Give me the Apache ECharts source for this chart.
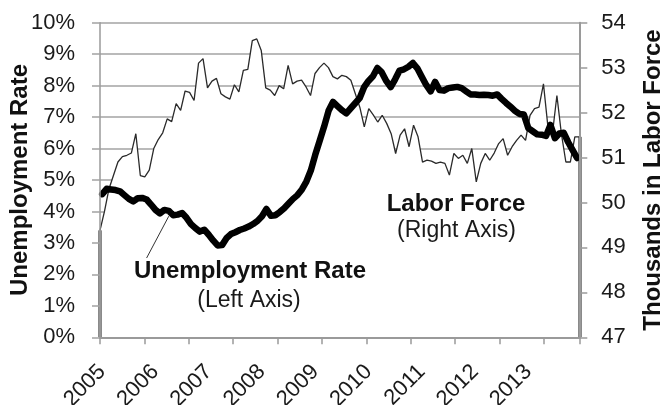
<!DOCTYPE html>
<html>
<head>
<meta charset="utf-8">
<title>Unemployment Rate and Labor Force</title>
<script src="https://cdn.jsdelivr.net/npm/echarts@6/dist/echarts.min.js"></script>
<style>
  html, body { margin: 0; padding: 0; background: #ffffff; }
  #chart { width: 666px; height: 405px; }
</style>
</head>
<body>
<div id="chart"></div>
<script>
// Year labels on the horizontal axis; one category per month
const yearLabels = ['2005', '2006', '2007', '2008', '2009', '2010', '2011', '2012', '2013'];
const monthNums = ['01', '02', '03', '04', '05', '06', '07', '08', '09', '10', '11', '12'];
const months = [];
yearLabels.forEach(y => monthNums.forEach(m => months.push(y + '-' + m)));

// Left-axis gridline values, percent
const rateGridValues = [1, 2, 3, 4, 5, 6, 7, 8, 9, 10];

// Unemployment rate, percent (left axis), Jan 2005 - Dec 2013
const unemploymentRate = [
  4.55, 4.72, 4.70, 4.68, 4.64, 4.52, 4.40, 4.32, 4.42, 4.43, 4.38, 4.22,
  4.05, 3.94, 4.05, 4.02, 3.88, 3.90, 3.95, 3.80, 3.60, 3.47, 3.36, 3.42,
  3.26, 3.08, 2.92, 2.93, 3.15, 3.28, 3.34, 3.41, 3.46, 3.52, 3.60, 3.70,
  3.85, 4.08, 3.86, 3.88, 3.98, 4.10, 4.25, 4.40, 4.52, 4.70, 4.95, 5.30,
  5.80, 6.25, 6.70, 7.20, 7.48, 7.35, 7.22, 7.12, 7.28, 7.44, 7.60, 7.95,
  8.15, 8.30, 8.56, 8.42, 8.15, 7.95, 8.20, 8.48, 8.52, 8.60, 8.72, 8.55,
  8.28, 8.02, 7.82, 8.12, 7.86, 7.84, 7.92, 7.94, 7.96, 7.92, 7.82, 7.72,
  7.72, 7.70, 7.71, 7.70, 7.68, 7.72, 7.58, 7.45, 7.33, 7.20, 7.10, 7.08,
  6.65, 6.55, 6.45, 6.44, 6.40, 6.75, 6.33, 6.48, 6.50, 6.20, 5.95, 5.70
];

// Labor force, thousands (right axis), Jan 2005 - Dec 2013
const laborForce = [
  49.38, 49.80, 50.30, 50.60, 50.90, 51.02, 51.05, 51.10, 51.53, 50.60, 50.57, 50.72,
  51.20, 51.40, 51.55, 51.86, 51.80, 52.20, 52.05, 52.48, 52.45, 52.27, 53.10, 53.20,
  52.55, 52.70, 52.76, 52.42, 52.35, 52.30, 52.62, 52.46, 52.94, 52.96, 53.60, 53.64,
  53.38, 52.55, 52.50, 52.38, 52.60, 52.53, 53.05, 52.64, 52.70, 52.72, 52.57, 52.38,
  52.87, 53.00, 53.10, 53.00, 52.80, 52.75, 52.83, 52.80, 52.72, 52.42, 52.12, 51.68,
  52.09, 51.95, 51.79, 51.94, 51.76, 51.53, 51.09, 51.50, 51.64, 51.24, 51.72, 51.46,
  50.90, 50.94, 50.92, 50.87, 50.90, 50.87, 50.61, 51.09, 50.98, 51.05, 50.87, 51.20,
  50.46, 50.87, 51.09, 50.94, 51.10, 51.31, 51.42, 51.05, 51.24, 51.38, 51.50, 51.38,
  51.94, 52.09, 52.12, 52.64, 51.68, 51.53, 52.38, 51.53, 50.90, 50.90, 51.46, 51.46
];

const FONT = 'Liberation Sans, Arial, sans-serif';
const GRID_GRAY = '#a3a3a3';
const AXIS_GRAY = '#9a9a9a';
const EDGE_GRAY = '#8a8a8a';

const chart = echarts.init(document.getElementById('chart'), null, { renderer: 'canvas' });

const lastIdx = laborForce.length - 1;

chart.setOption({
  animation: false,
  backgroundColor: '#ffffff',
  grid: {
    left: 100, right: 86.7, top: 22.7, bottom: 67.7,
    containLabel: false,
    outerBoundsMode: 'none'
  },
  xAxis: [
    {
      type: 'category',
      data: months,
      boundaryGap: true,
      z: 10,
      axisLine: { show: true, lineStyle: { color: AXIS_GRAY, width: 2 } },
      axisTick: { show: true, interval: 9, length: 7, lineStyle: { color: AXIS_GRAY, width: 1.5 } },
      axisLabel: {
        interval: 11,
        rotate: 45,
        margin: 31,
        fontFamily: FONT,
        fontSize: 22,
        color: '#1a1a1a',
        formatter: v => v.slice(0, 4)
      },
      splitLine: { show: false }
    },
    {
      // edge-to-edge positions for the labor force area and line
      type: 'category',
      data: months,
      boundaryGap: false,
      show: false
    }
  ],
  yAxis: [
    {
      type: 'value',
      position: 'left',
      min: 0, max: 10, interval: 1,
      z: 10,
      name: 'Unemployment Rate',
      nameLocation: 'middle',
      nameGap: 68,
      nameMoveOverlap: false,
      nameTextStyle: { fontFamily: FONT, fontSize: 24, fontWeight: 'bold', color: '#111' },
      axisLine: { show: true, lineStyle: { color: AXIS_GRAY, width: 1.5 } },
      axisTick: { show: true, length: 8, lineStyle: { color: GRID_GRAY, width: 1.5 } },
      axisLabel: {
        margin: 25,
        fontFamily: FONT, fontSize: 22, color: '#1a1a1a',
        formatter: '{value}%'
      },
      splitLine: { show: false }
    },
    {
      type: 'value',
      position: 'right',
      min: 47, max: 54, interval: 1,
      z: 10,
      name: 'Thousands in Labor Force',
      nameLocation: 'middle',
      nameRotate: 90,
      nameGap: 62,
      nameMoveOverlap: false,
      nameTextStyle: { fontFamily: FONT, fontSize: 24, fontWeight: 'bold', color: '#111' },
      axisLine: { show: true, lineStyle: { color: AXIS_GRAY, width: 2 } },
      axisTick: { show: true, length: 8, lineStyle: { color: AXIS_GRAY, width: 1.5 } },
      axisLabel: { margin: 22, fontFamily: FONT, fontSize: 22, color: '#1a1a1a' },
      splitLine: { show: false }
    }
  ],
  series: [
    {
      // horizontal gridlines, painted beneath the labor force area
      name: 'Grid',
      type: 'line',
      xAxisIndex: 0,
      yAxisIndex: 0,
      data: [],
      silent: true,
      z: 0,
      markLine: {
        z: 0,
        silent: true,
        symbol: ['none', 'none'],
        label: { show: false },
        lineStyle: { color: GRID_GRAY, width: 1.5, type: 'solid' },
        data: rateGridValues.map(v => ({ yAxis: v }))
      }
    },
    {
      // white-filled area under the labor force line hides the grid below it
      name: 'Labor Force Area',
      type: 'line',
      xAxisIndex: 1,
      yAxisIndex: 1,
      data: laborForce,
      symbol: 'none',
      silent: true,
      lineStyle: { width: 0, color: '#ffffff' },
      areaStyle: { color: '#ffffff', opacity: 1, origin: 'start' },
      z: 1
    },
    {
      name: 'Labor Force',
      type: 'line',
      xAxisIndex: 1,
      yAxisIndex: 1,
      data: laborForce,
      symbol: 'none',
      lineStyle: { color: '#2a2a2a', width: 1.3 },
      z: 2,
      markLine: {
        // vertical edges of the labor force area
        z: 2,
        silent: true,
        symbol: ['none', 'none'],
        label: { show: false },
        lineStyle: { color: EDGE_GRAY, width: 4, type: 'solid' },
        data: [
          [{ coord: [0, 47] }, { coord: [0, laborForce[0]] }],
          [{ coord: [lastIdx, 47] }, { coord: [lastIdx, laborForce[lastIdx]] }]
        ]
      }
    },
    {
      name: 'Unemployment Rate',
      type: 'line',
      xAxisIndex: 0,
      yAxisIndex: 0,
      data: unemploymentRate,
      symbol: 'none',
      lineStyle: { color: '#000000', width: 6.5, join: 'round', cap: 'round' },
      z: 3,
      markLine: {
        z: 3,
        silent: true,
        symbol: ['none', 'none'],
        label: { show: false },
        lineStyle: { color: '#333333', width: 1, type: 'solid' },
        data: [
          [{ coord: [10, 2.52] }, { coord: [15, 3.85] }]
        ]
      }
    }
  ],
  graphic: [
    {
      type: 'text', x: 250, y: 271, z: 10,
      style: { text: 'Unemployment Rate', fill: '#111', font: 'bold 24px ' + FONT, align: 'center', verticalAlign: 'middle' }
    },
    {
      type: 'text', x: 249, y: 301, z: 10,
      style: { text: '(Left Axis)', fill: '#1a1a1a', font: '23px ' + FONT, align: 'center', verticalAlign: 'middle' }
    },
    {
      type: 'text', x: 456, y: 204, z: 10,
      style: { text: 'Labor Force', fill: '#111', font: 'bold 24px ' + FONT, align: 'center', verticalAlign: 'middle' }
    },
    {
      type: 'text', x: 456.5, y: 231, z: 10,
      style: { text: '(Right Axis)', fill: '#1a1a1a', font: '23px ' + FONT, align: 'center', verticalAlign: 'middle' }
    }
  ]
});
</script>
</body>
</html>
